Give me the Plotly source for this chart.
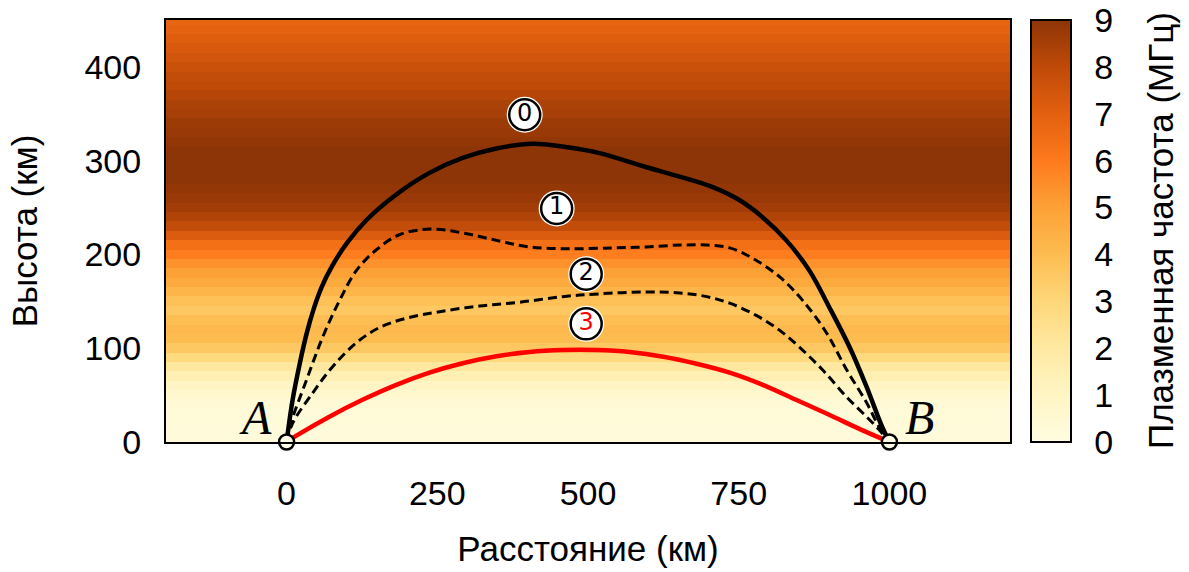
import plotly.graph_objects as go

# Background plasma-frequency profile (MHz) vs height (km)
heights = list(range(0, 460, 10))
freq = [0.2, 0.2, 0.3, 0.3, 0.4, 0.6, 1.0, 1.5, 2.1, 2.9, 3.6, 4.0, 4.1, 3.9, 3.6,
        3.8, 4.3, 4.7, 5.0, 5.4, 5.9, 6.4, 7.2, 7.9, 8.3, 8.6, 8.8, 8.9, 9.0, 9.0,
        9.0, 9.0, 8.9, 8.8, 8.7, 8.5, 8.4, 8.2, 8.0, 7.9, 7.7, 7.5, 7.3, 7.1, 6.9, 6.8]
x_bg = [-200, 1200]

# Rays (distance km, height km)
ray0_x = [0, 10, 22, 33, 45, 58, 75, 100, 133, 182, 237, 292, 348, 408, 469, 519, 597, 652,
          706, 751, 789, 829, 867, 900, 934, 962, 988, 1000]
ray0_y = [0, 45, 84, 115, 142, 165, 187, 212, 237, 264, 287, 303, 313, 318, 314, 308, 293, 283,
          272, 258, 240, 215, 183, 144, 101, 59, 16, 0]
ray1_x = [0, 5, 33, 60, 88, 116, 149, 187, 237, 292, 348, 403, 469, 541, 597, 652, 697,
          735, 773, 818, 856, 896, 929, 962, 983, 1000]
ray1_y = [0, 16, 66, 112, 151, 183, 205, 221, 227, 223, 215, 208, 206, 207, 208, 210, 210,
          207, 196, 176, 151, 116, 77, 42, 16, 0]
ray2_x = [0, 10, 43, 76, 116, 154, 199, 254, 320, 386, 458, 519, 597, 652, 697, 735, 779,
          818, 851, 889, 929, 962, 983, 1000]
ray2_y = [0, 20, 52, 80, 106, 122, 132, 139, 145, 149, 155, 158, 160, 159, 155, 148, 135,
          119, 101, 77, 48, 27, 13, 0]
ray3_x = [0, 17, 71, 126, 182, 237, 292, 348, 403, 458, 514, 569, 625, 680, 735, 790, 845,
          900, 950, 1000]
ray3_y = [0, 7, 27, 45, 61, 74, 84, 91.5, 96, 98, 98, 96, 91, 83.5, 74, 61, 45, 29, 14, 0]

label_text = ["0", "1", "2", "3"]
label_x = [395, 448, 497, 497]
label_y = [349, 249, 179, 126]
label_color = ["black", "black", "black", "red"]

pts_x = [0, 1000]
pts_y = [0, 0]

x_ticks = [0, 250, 500, 750, 1000]
y_ticks = [0, 100, 200, 300, 400]
cb_ticks = list(range(0, 10))

colorscale = [
    [0.0, "#FFFDE0"], [1/9, "#FFF5C4"], [2/9, "#FEE9A2"], [3/9, "#FED77A"],
    [4/9, "#FDBC50"], [5/9, "#FCA136"], [6/9, "#FE7A1C"], [7/9, "#E2600F"],
    [8/9, "#BF4A08"], [1.0, "#8E3507"],
]

tick_font = dict(family="Liberation Sans", size=34, color="black")
title_font = dict(family="Liberation Sans", size=35, color="black")

fig = go.Figure()
fig.add_trace(go.Heatmap(
    x=x_bg, y=heights, z=[[f, f] for f in freq],
    zmin=0, zmax=9, colorscale=colorscale, zsmooth=False,
    colorbar=dict(
        x=(1031 - 166) / 844, xanchor="left", y=0, yanchor="bottom", len=1,
        lenmode="fraction", thickness=40, outlinewidth=2, outlinecolor="black",
        tickvals=cb_ticks, ticks="outside", ticklen=16, tickcolor="rgba(0,0,0,0)",
        tickfont=tick_font, ypad=0, xpad=0,
    ),
    hoverinfo="skip",
))

fig.add_trace(go.Scatter(x=ray0_x, y=ray0_y, mode="lines",
                         line=dict(color="black", width=4.5, shape="spline", smoothing=1.0)))
fig.add_trace(go.Scatter(x=ray1_x, y=ray1_y, mode="lines",
                         line=dict(color="black", width=3, dash="9px,5px", shape="spline", smoothing=1.0)))
fig.add_trace(go.Scatter(x=ray2_x, y=ray2_y, mode="lines",
                         line=dict(color="black", width=3, dash="9px,5px", shape="spline", smoothing=1.0)))
fig.add_trace(go.Scatter(x=ray3_x, y=ray3_y, mode="lines",
                         line=dict(color="red", width=4.5, shape="spline", smoothing=1.0)))

# Circled ray labels
fig.add_trace(go.Scatter(x=label_x, y=label_y, mode="markers",
                         marker=dict(size=36, color="white", line=dict(width=0))))
fig.add_trace(go.Scatter(x=label_x, y=label_y, mode="markers+text", text=label_text,
                         textposition="middle center",
                         textfont=dict(family="DejaVu Sans", size=24, color=label_color),
                         marker=dict(size=31, color="white", line=dict(color="black", width=2.5))))

# End points A and B
fig.add_trace(go.Scatter(x=pts_x, y=pts_y, mode="markers", cliponaxis=False,
                         marker=dict(size=15, color="#FFFDE8", line=dict(color="black", width=2.5))))

fig.add_annotation(x=0, y=0, xref="x", yref="y", text="A", showarrow=False,
                   xshift=-31, yshift=25,
                   font=dict(family="Liberation Serif", size=48, color="black", style="italic"))
fig.add_annotation(x=1000, y=0, xref="x", yref="y", text="B", showarrow=False,
                   xshift=30, yshift=25,
                   font=dict(family="Liberation Serif", size=48, color="black", style="italic"))

fig.add_annotation(x=(1160 - 166) / 844, y=0.5, xref="paper", yref="paper",
                   xanchor="center", yanchor="middle",
                   text="Плазменная частота (МГц)", textangle=-90, showarrow=False,
                   font=title_font)

fig.update_layout(
    width=1189, height=572,
    margin=dict(l=166, r=179, t=20, b=130, autoexpand=False),
    paper_bgcolor="white", plot_bgcolor="white",
    showlegend=False,
    xaxis=dict(range=[-200, 1200], tickvals=x_ticks, ticks="", showgrid=False, zeroline=False,
               showline=True, linecolor="black", linewidth=2, mirror=True, automargin=False,
               tickfont=tick_font, ticklabelstandoff=20,
               title=dict(text="Расстояние (км)", font=title_font, standoff=26)),
    yaxis=dict(range=[0, 450], tickvals=y_ticks, ticks="", showgrid=False, zeroline=False,
               showline=True, linecolor="black", linewidth=2, mirror=True, automargin=False,
               tickfont=tick_font, ticklabelstandoff=16,
               title=dict(text="Высота (км)", font=title_font, standoff=36)),
)

fig.write_html("out.html")
